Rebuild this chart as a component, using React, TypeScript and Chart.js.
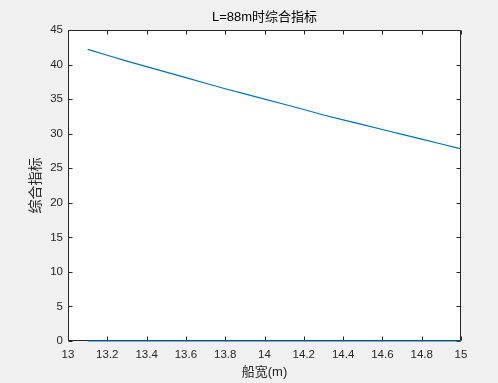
import React, { useEffect, useRef } from "react";
import { Chart, registerables } from "chart.js";

Chart.register(...registerables);

const titleText = "L=88m时综合指标";
const xTitle = "船宽(m)";
const yTitle = "综合指标";

const shipWidths = [13.1, 13.2, 13.3, 13.4, 13.5, 13.6, 13.7, 13.8, 13.9, 14.0, 14.1, 14.2, 14.3, 14.4, 14.5, 14.6, 14.7, 14.8, 14.9, 15.0];
const indexValues = [42.2, 41.35, 40.5, 39.7, 38.9, 38.1, 37.3, 36.5, 35.75, 35.0, 34.25, 33.5, 32.7, 32.0, 31.3, 30.6, 29.9, 29.2, 28.5, 27.8];
const zeroValues = [0, 0, 0, 0, 0, 0, 0, 0, 0, 0, 0, 0, 0, 0, 0, 0, 0, 0, 0, 0];

const xMin = 13;
const xMax = 15;
const xStep = 0.2;
const yMin = 0;
const yMax = 45;
const yStep = 5;

const FONT = "'Liberation Sans', Arial, 'Noto Sans CJK SC', sans-serif";
const AXIS_COLOR = "#262626";
const LINE_COLOR = "#0072BD";

const matlabPlugin = {
  id: "matlabBox",
  beforeDraw(chart: any) {
    const ctx = chart.ctx;
    const { left, top, right, bottom } = chart.chartArea;
    ctx.save();
    ctx.fillStyle = "#f0f0f0";
    ctx.fillRect(0, 0, chart.width, chart.height);
    ctx.fillStyle = "#ffffff";
    ctx.fillRect(left, top, right - left, bottom - top);
    ctx.restore();
  },
  beforeDatasetsDraw(chart: any) {
    const ctx = chart.ctx;
    const { left, top, right, bottom } = chart.chartArea;
    const L = Math.round(left) + 0.5;
    const R = Math.round(right) - 0.5;
    const T = Math.round(top) + 0.5;
    const B = Math.round(bottom) - 0.5;
    const tl = 4;
    ctx.save();
    ctx.strokeStyle = AXIS_COLOR;
    ctx.lineWidth = 1;
    ctx.beginPath();
    ctx.rect(L, T, R - L, B - T);
    const xs = chart.scales.x;
    xs.ticks.forEach((t: any) => {
      const px = Math.round(xs.getPixelForValue(t.value)) + 0.5;
      ctx.moveTo(px, B);
      ctx.lineTo(px, B - tl);
      ctx.moveTo(px, T);
      ctx.lineTo(px, T + tl);
    });
    const ys = chart.scales.y;
    ys.ticks.forEach((t: any) => {
      const py = Math.round(ys.getPixelForValue(t.value)) + 0.5;
      ctx.moveTo(L, py);
      ctx.lineTo(L + tl, py);
      ctx.moveTo(R, py);
      ctx.lineTo(R - tl, py);
    });
    ctx.stroke();
    ctx.restore();
  },
};

export default function App() {
  const canvasRef = useRef<HTMLCanvasElement | null>(null);

  useEffect(() => {
    if (!canvasRef.current) return;
    const chart = new Chart(canvasRef.current, {
      type: "line",
      data: {
        datasets: [
          {
            data: shipWidths.map((x, i) => ({ x, y: indexValues[i] })),
            borderColor: LINE_COLOR,
            borderWidth: 1.2,
            pointRadius: 0,
            tension: 0,
            fill: false,
            clip: false as any,
          },
          {
            data: shipWidths.map((x, i) => ({ x, y: zeroValues[i] })),
            borderColor: LINE_COLOR,
            borderWidth: 1.2,
            pointRadius: 0,
            tension: 0,
            fill: false,
            clip: false as any,
          },
        ],
      },
      options: {
        animation: false,
        responsive: false,
        maintainAspectRatio: false,
        layout: { padding: { left: 0, right: 37, top: 0, bottom: 0 } },
        plugins: {
          legend: { display: false },
          tooltip: { enabled: false },
          title: {
            display: true,
            text: titleText,
            fullSize: false,
            color: "#000000",
            font: { family: FONT, size: 13, weight: "normal" },
            padding: { top: 10, bottom: 4.4 },
          },
        },
        scales: {
          x: {
            type: "linear",
            min: xMin,
            max: xMax,
            grid: { display: false, drawTicks: false },
            border: { display: false },
            ticks: {
              stepSize: xStep,
              padding: 7,
              color: AXIS_COLOR,
              font: { family: FONT, size: 11.5 },
              maxRotation: 0,
              autoSkip: false,
              callback: (v: any) => String(Number(Number(v).toFixed(1))),
            },
            title: {
              display: true,
              text: xTitle,
              color: AXIS_COLOR,
              font: { family: FONT, size: 13 },
              padding: { top: 0, bottom: 3.2 },
            },
            afterFit: (s: any) => {
              s.height = 42;
            },
          },
          y: {
            type: "linear",
            min: yMin,
            max: yMax,
            grid: { display: false, drawTicks: false },
            border: { display: false },
            ticks: {
              stepSize: yStep,
              padding: 5,
              color: AXIS_COLOR,
              font: { family: FONT, size: 11.5 },
            },
            title: {
              display: true,
              text: yTitle,
              color: AXIS_COLOR,
              font: { family: FONT, size: 14 },
              padding: { top: 27.6, bottom: 0 },
            },
            afterFit: (s: any) => {
              s.width = 68;
            },
          },
        },
      },
      plugins: [matlabPlugin],
    });
    return () => chart.destroy();
  }, []);

  return (
    <div style={{ position: "fixed", left: 0, top: 0, width: 498, height: 383, background: "#f0f0f0" }}>
      <canvas ref={canvasRef} width={498} height={383} style={{ display: "block", width: 498, height: 383 }} />
    </div>
  );
}
